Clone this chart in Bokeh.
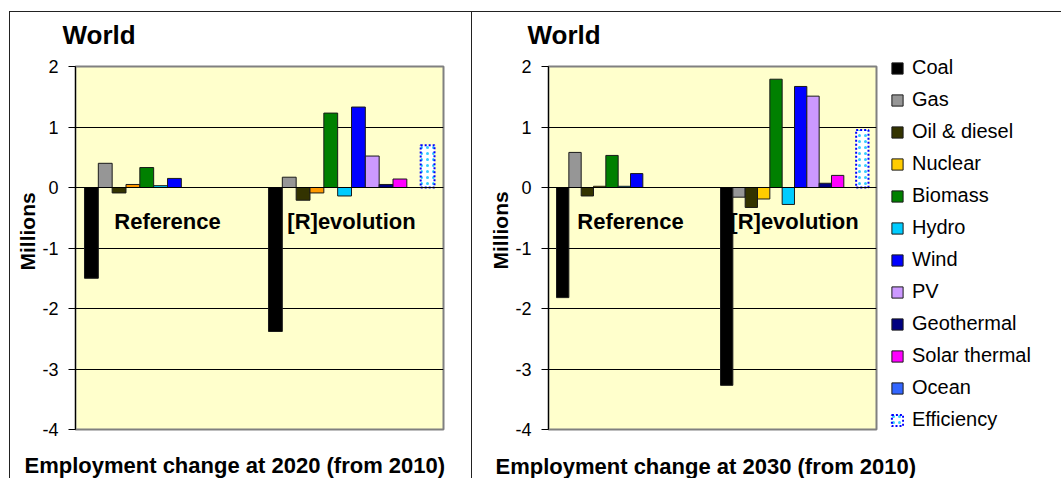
from bokeh.plotting import figure
from bokeh.models import (FactorRange, ColumnDataSource, Legend, LegendItem,
                          Span, FixedTicker, Title, Range1d)
from bokeh.layouts import row
from bokeh.embed import file_html
from bokeh.resources import INLINE
from bokeh.core.properties import value

NA = float("nan")  # no bar shown

# ---------------- data ----------------
scenarios = ["Reference", "[R]evolution"]
sources = ["Coal", "Gas", "Oil & diesel", "Nuclear", "Biomass", "Hydro", "Wind",
           "PV", "Geothermal", "Solar thermal", "Ocean", "Efficiency"]

ref_2020 = [-1.50, 0.40, -0.09, 0.05, 0.33, 0.03, 0.15, 0.0, 0.0, 0.0, 0.0, NA]
rev_2020 = [-2.38, 0.17, -0.21, -0.09, 1.23, -0.14, 1.33, 0.52, 0.05, 0.14, 0.0, 0.70]
ref_2030 = [-1.82, 0.58, -0.14, 0.02, 0.53, 0.02, 0.23, 0.0, 0.0, 0.0, 0.0, NA]
rev_2030 = [-3.27, -0.16, -0.33, -0.19, 1.79, -0.28, 1.67, 1.51, 0.07, 0.20, 0.0, 0.95]

colors_2020 = ["#000000", "#969696", "#333300", "#FF9900", "#008000", "#00CCFF",
               "#0000FF", "#CC99FF", "#000080", "#FF00FF", "#3366FF", "#FFFFFF"]
colors_2030 = ["#000000", "#969696", "#333300", "#FFCC00", "#008000", "#00CCFF",
               "#0000FF", "#CC99FF", "#000080", "#FF00FF", "#3366FF", "#FFFFFF"]

y_ticks = [-4, -3, -2, -1, 0, 1, 2]
panel_title = "World"
y_title = "Millions"
x_title_2020 = "Employment change at 2020 (from 2010)"
x_title_2030 = "Employment change at 2030 (from 2010)"

FONT = "Liberation Sans"
FRAME_H = 363
FIG_H = 467
factors = [(s, src) for s in scenarios for src in sources]


def bar_style(src, color):
    if src == "Efficiency":
        return dict(fill_color="white", hatch_pattern="dot", hatch_color="#33CCFF",
                    hatch_scale=6, hatch_weight=2.5, line_color="#0000FF",
                    line_dash="2 2", line_width=2)
    return dict(fill_color=color, line_color="#1a1a1a", line_width=1)


def spacer(standoff):
    return Title(text=" ", text_font_size="1px", standoff=standoff)


def make_panel(ref, rev, colors, xtitle, width, margin, mb_left, mb_right, mb_top,
               world_off, world_gap, xtitle_off, xtitle_gap, ytitle_off, styles):
    xr = FactorRange(factors=factors, factor_padding=0, group_padding=1.3,
                     range_padding=0.65, range_padding_units="absolute")
    p = figure(x_range=xr, y_range=(-4, 2), width=width, height=FIG_H,
               output_backend="svg", toolbar_location=None, title=None,
               x_axis_location=None, margin=margin,
               min_border_left=mb_left, min_border_right=mb_right,
               min_border_top=mb_top,
               min_border_bottom=FIG_H - 1 - mb_top - FRAME_H)
    p.styles = styles
    p.background_fill_color = "#FFFFCC"
    p.border_fill_color = "white"
    p.outline_line_color = "#808080"
    p.outline_line_width = 2
    p.xgrid.visible = False
    p.ygrid.grid_line_color = "black"
    p.ygrid.grid_line_width = 1

    ax = p.yaxis[0]
    ax.ticker = FixedTicker(ticks=y_ticks)
    ax.major_label_overrides = {t: str(t) for t in y_ticks}
    ax.axis_line_color = "black"
    ax.major_tick_line_color = "black"
    ax.major_tick_out = 7
    ax.major_tick_in = 0
    ax.minor_tick_line_color = None
    ax.major_label_text_font = FONT
    ax.major_label_text_font_size = "18px"
    ax.major_label_text_color = "black"
    ax.major_label_standoff = 10

    sources_cds = []
    for i, src in enumerate(sources):
        cds = ColumnDataSource(dict(x=[(s, src) for s in scenarios],
                                    top=[ref[i], rev[i]]))
        p.vbar(x="x", top="top", bottom=0, width=1, source=cds,
               **bar_style(src, colors[i]))
        sources_cds.append(cds)

    p.add_layout(Span(location=0, dimension="width", line_color="black",
                      line_width=1))

    p.text(x=scenarios, y=-0.56, text=scenarios, text_font=value(FONT),
           text_font_style="bold", text_font_size=value("22px"),
           text_align="center", text_baseline="middle", text_color="black")

    # titles: first added sits closest to the frame
    p.add_layout(spacer(world_gap), "above")
    p.add_layout(Title(text=panel_title, align="left", offset=world_off,
                       standoff=0, text_font=FONT, text_font_style="bold",
                       text_font_size="26px", text_color="black"), "above")
    p.add_layout(spacer(xtitle_gap), "below")
    p.add_layout(Title(text=xtitle, align="left", offset=xtitle_off,
                       standoff=0, text_font=FONT, text_font_style="bold",
                       text_font_size="22px", text_color="black"), "below")
    p.add_layout(Title(text=y_title, align="left", offset=ytitle_off, standoff=2,
                       text_font=FONT, text_font_style="bold",
                       text_font_size="21px", text_color="black"), "left")
    return p, sources_cds


p1, _ = make_panel(ref_2020, rev_2020, colors_2020, x_title_2020, 463,
                   (11, 0, 0, 9), 65, 30, 54, -13, 14, -51, 18, 159,
                   {"border-left": "1px solid #222", "border-top": "1px solid #222",
                    "border-right": "1px solid #222", "box-sizing": "border-box"})
p2, cds_2030 = make_panel(ref_2030, rev_2030, colors_2030, x_title_2030, 589,
                          (11, 0, 0, 0), 76, 185, 53, -21, 14, -53, 19, 160,
                          {"border-top": "1px solid #222",
                           "box-sizing": "border-box"})

# legend key, drawn over the right margin of the 2030 panel
p3 = figure(width=184, height=428, output_backend="svg", toolbar_location=None,
            title=None, x_axis_location=None, y_axis_location=None,
            x_range=FactorRange(factors=factors), y_range=Range1d(-4, 2),
            min_border_left=0, min_border_right=0, min_border_top=0,
            min_border_bottom=0)
p3.styles = {"position": "absolute", "left": "877px", "top": "12px"}
p3.grid.visible = False
p3.outline_line_color = None
p3.background_fill_alpha = 0
p3.border_fill_alpha = 0
items = []
for i, src in enumerate(sources):
    r = p3.vbar(x="x", top="top", bottom=0, width=1, source=cds_2030[i],
                visible=False, **bar_style(src, colors_2030[i]))
    items.append(LegendItem(label=src, renderers=[r]))
legend = Legend(items=items, location=(13, 9), glyph_width=14, glyph_height=14,
                label_text_font=FONT, label_text_font_size="20px",
                label_text_color="black", label_standoff=8, spacing=9,
                padding=0, margin=0, border_line_color=None,
                background_fill_alpha=0, inactive_fill_alpha=0)
p3.add_layout(legend)

layout = row(p1, p2, spacing=0)
open("out.html", "w").write(file_html([layout, p3], INLINE))
